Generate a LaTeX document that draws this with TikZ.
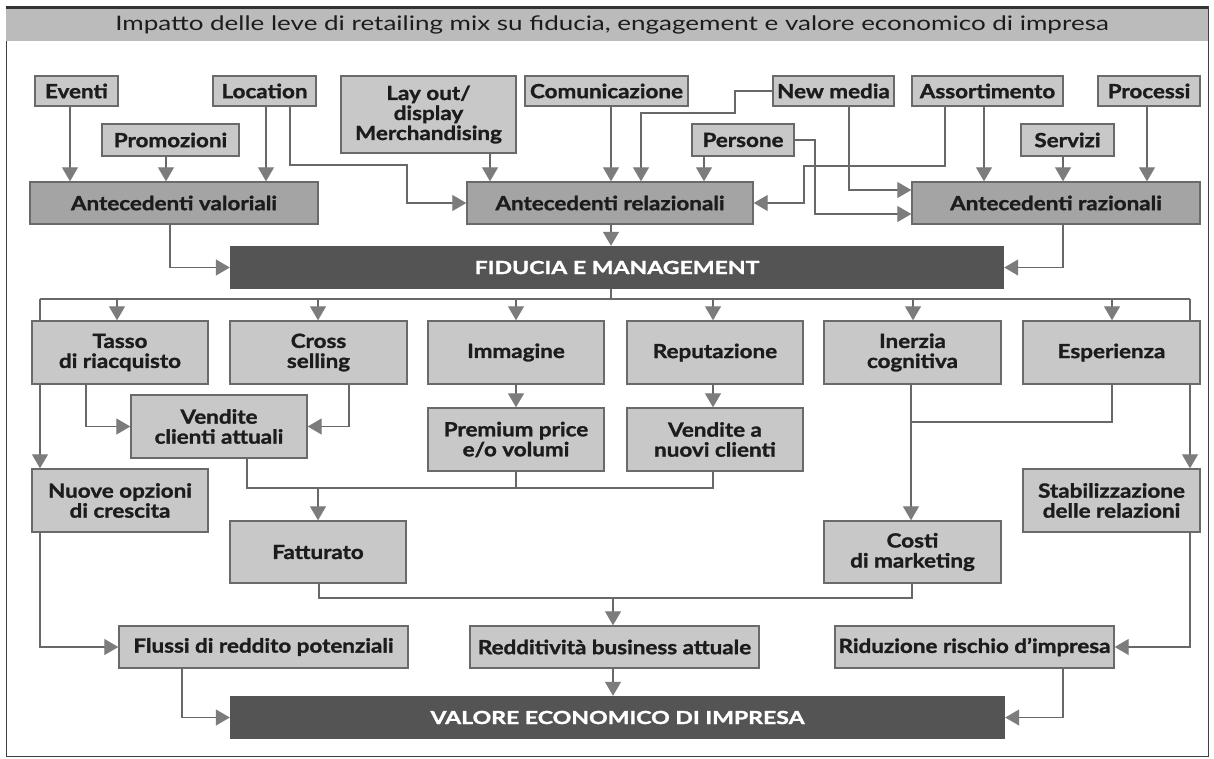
\documentclass[tikz,border=0pt]{standalone}
\usepackage{fontspec}
\setmainfont{Lato}
\newfontfamily\boxfont{Lato}[FakeStretch=1.15, BoldFeatures={FakeBold=1.4}]
\newfontfamily\barfont{Lato}[FakeStretch=1.28, BoldFeatures={FakeBold=1.6}]
\newfontfamily\headfont{Lato}[FakeStretch=1.3]
\usetikzlibrary{arrows.meta}
\pgfdeclarelayer{base}
\pgfdeclarelayer{bg}
\pgfsetlayers{base,bg,main}

\definecolor{boxfill}{HTML}{C8C8C8}
\definecolor{antfill}{HTML}{A4A4A4}
\definecolor{darkbar}{HTML}{545454}
\definecolor{edge}{HTML}{6A6A6A}
\definecolor{wire}{HTML}{686868}
\definecolor{tipgray}{HTML}{7C7C7C}
\definecolor{titlefill}{HTML}{BBBBBB}
\definecolor{ink}{HTML}{1C1C1C}

\tikzset{
  box/.style={draw=edge, line width=1.4pt, fill=boxfill, text=ink,
    font=\boxfont\bfseries\fontsize{19.5}{20}\selectfont, align=center, inner sep=0pt},
  ante/.style={box, fill=antfill},
  bar/.style={draw=none, fill=darkbar, text=white,
    font=\barfont\bfseries\fontsize{18}{20}\selectfont, inner sep=0pt},
  wire/.style={draw=wire, line width=1.2pt},
  arrow/.style={wire, -{Triangle[width=16pt,length=14pt,color=tipgray]}},
}

% place a node by its corners: [style]{name}{x1}{y1}{x2}{y2}{text}
\newcommand\placebox[7][box]{%
  \node[#1, minimum width={(#5-#3)*1pt}, minimum height={(#6-#4)*1pt}]
    (#2) at ({(#3+#5)/2},{(#4+#6)/2}) {#7};}

\begin{document}
\begin{tikzpicture}[x=1pt,y=-1pt]
\useasboundingbox (0,0) rectangle (1214,758);

% frame and title band
\begin{pgfonlayer}{base}
\fill[white] (0,0) rectangle (1214,758);
\draw[color=black!75, line width=1pt] (6,6) rectangle (1208,756);
\fill[titlefill] (6,6) rectangle (1208,41);
\draw[color=black!80, line width=3pt] (6,7) -- (1208,7);
\end{pgfonlayer}
\node[font=\headfont\fontsize{20}{22}\selectfont, text=ink] (title) at (612,25)
  {Impatto delle leve di retailing mix su fiducia, engagement e valore economico di impresa};

% levers
\placebox{eventi}{35}{76}{118}{106}{Eventi}
\placebox{location}{213}{76}{316}{106}{Location}
\placebox{layout}{341}{76}{516}{153}{Lay out/\\display\\Merchandising}
\placebox{comunicazione}{525}{76}{688}{106}{Comunicazione}
\placebox{newmedia}{773}{76}{894}{106}{New media}
\placebox{assortimento}{912}{76}{1063}{106}{Assortimento}
\placebox{processi}{1098}{76}{1200}{106}{Processi}
\placebox{promozioni}{102}{124}{239}{156}{Promozioni}
\placebox{persone}{692}{124}{794}{156}{Persone}
\placebox{servizi}{1021}{124}{1114}{156}{Servizi}

% antecedents
\placebox[ante]{antval}{30}{182}{318}{224}{Antecedenti valoriali}
\placebox[ante]{antrel}{467}{182}{753}{224}{Antecedenti relazionali}
\placebox[ante]{antraz}{912}{182}{1200}{224}{Antecedenti razionali}

\placebox[bar]{fiducia}{230}{246}{1004}{289}{FIDUCIA E MANAGEMENT}

% effects
\placebox{tasso}{32}{321}{208}{384}{Tasso\\di riacquisto}
\placebox{cross}{230}{321}{407}{384}{Cross\\selling}
\placebox{immagine}{428}{321}{604}{384}{Immagine}
\placebox{reputazione}{627}{321}{803}{384}{Reputazione}
\placebox{inerzia}{824}{321}{1001}{384}{Inerzia\\cognitiva}
\placebox{esperienza}{1023}{321}{1200}{384}{Esperienza}

\placebox{vendite}{131}{395}{307}{458}{Vendite\\clienti attuali}
\placebox{premium}{428}{408}{604}{471}{Premium price\\e/o volumi}
\placebox{vnuovi}{627}{408}{803}{471}{Vendite a\\nuovi clienti}

\placebox{nuove}{32}{469}{208}{532}{Nuove opzioni\\di crescita}
\placebox{stabil}{1023}{469}{1200}{532}{Stabilizzazione\\delle relazioni}
\placebox{fatturato}{230}{521}{406}{583}{Fatturato}
\placebox{costi}{824}{521}{1001}{583}{Costi\\di marketing}

\placebox{flussi}{119}{626}{408}{668}{Flussi di reddito potenziali}
\placebox{redd}{470}{626}{759}{668}{Redditività business attuale}
\placebox{riduz}{835}{626}{1114}{668}{Riduzione rischio d’impresa}

\placebox[bar]{valore}{230}{696}{1005}{739}{VALORE ECONOMICO DI IMPRESA}

% junction and bend points
\coordinate (busL) at (40,299);
\coordinate (busR) at (1190,299);
\coordinate (busM) at (611,299);
\coordinate (jvend) at (318,488);
\coordinate (jfatt) at (613,598);
\coordinate (jesp) at (911,422);
\coordinate (loA) at (290,165);
\coordinate (loB) at (407,165);
\coordinate (nmA) at (735,113);
\coordinate (nmB) at (641,113);
\coordinate (asA) at (804,166);
\coordinate (peA) at (815,214);

\begin{pgfonlayer}{bg}
% levers to antecedents
\draw[arrow] (70,0 |- eventi.south) -- (70,0 |- antval.north);
\draw[arrow] (166,0 |- promozioni.south) -- (166,0 |- antval.north);
\draw[arrow] (266,0 |- location.south) -- (266,0 |- antval.north);
\draw[arrow] (loA |- location.south) -- (loA) -- (loB) |- (antrel.west);
\draw[arrow] (490,0 |- layout.south) -- (490,0 |- antrel.north);
\draw[arrow] (611,0 |- comunicazione.south) -- (611,0 |- antrel.north);
\draw[arrow] (newmedia.west) -| (nmA) -- (nmB) -- (nmB |- antrel.north);
\draw[arrow] (704,0 |- persone.south) -- (704,0 |- antrel.north);
\draw[arrow] (persone.east) -| (peA) -- (antraz.west |- peA);
\draw[arrow] (849,0 |- newmedia.south) |- ([yshift=13pt]antraz.west);
\draw[arrow] (945,0 |- assortimento.south) |- (asA) |- (antrel.east);
\draw[arrow] (984,0 |- assortimento.south) -- (984,0 |- antraz.north);
\draw[arrow] (1063,0 |- servizi.south) -- (1063,0 |- antraz.north);
\draw[arrow] (1147,0 |- processi.south) -- (1147,0 |- antraz.north);

% antecedents to trust
\draw[arrow] (170,0 |- antval.south) |- (fiducia.west);
\draw[arrow] (611,0 |- antrel.south) -- (611,0 |- fiducia.north);
\draw[arrow] (1063,0 |- antraz.south) |- (fiducia.east);

% distribution bus
\draw[wire] (busM |- fiducia.south) -- (busM);
\draw[wire] (busL) -- (busR);
\draw[arrow] (busL) -- (busL |- nuove.north);
\draw[arrow] (busR) -- (busR |- stabil.north);
\draw[arrow] (117,0 |- busL) -- (117,0 |- tasso.north);
\draw[arrow] (318,0 |- busL) -- (318,0 |- cross.north);
\draw[arrow] (516,0 |- busL) -- (516,0 |- immagine.north);
\draw[arrow] (713,0 |- busL) -- (713,0 |- reputazione.north);
\draw[arrow] (913,0 |- busL) -- (913,0 |- inerzia.north);
\draw[arrow] (1112,0 |- busL) -- (1112,0 |- esperienza.north);

% effects to outcomes
\draw[arrow] (86,0 |- tasso.south) |- (vendite.west);
\draw[arrow] (349,0 |- cross.south) |- (vendite.east);
\draw[arrow] (516,0 |- immagine.south) -- (516,0 |- premium.north);
\draw[arrow] (713,0 |- reputazione.south) -- (713,0 |- vnuovi.north);
\draw[wire] (247,0 |- vendite.south) |- (713,0 |- jvend) -- (713,0 |- vnuovi.south);
\draw[wire] (516,0 |- premium.south) -- (516,0 |- jvend);
\draw[arrow] (jvend) -- (jvend |- fatturato.north);
\draw[arrow] (911,0 |- inerzia.south) -- (911,0 |- costi.north);
\draw[wire] (1112,0 |- esperienza.south) |- (jesp);
\draw[wire] (319,0 |- fatturato.south) |- (912,0 |- jfatt) -- (912,0 |- costi.south);
\draw[arrow] (jfatt) -- (jfatt |- redd.north);
\draw[arrow] (busL |- nuove.south) |- (flussi.west);
\draw[arrow] (busR |- stabil.south) |- (riduz.east);

% outcomes to firm value
\draw[arrow] (182,0 |- flussi.south) |- (valore.west);
\draw[arrow] (613,0 |- redd.south) -- (613,0 |- valore.north);
\draw[arrow] (1063,0 |- riduz.south) |- (valore.east);
\end{pgfonlayer}
\end{tikzpicture}
\end{document}
